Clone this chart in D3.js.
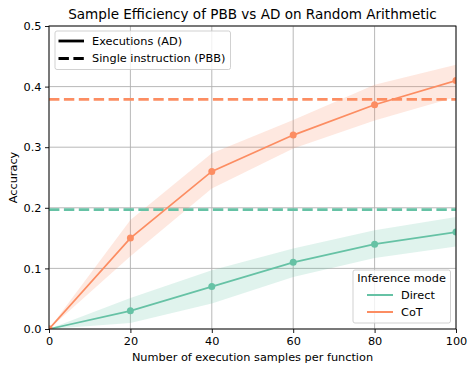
<!DOCTYPE html>
<html>
<head>
<meta charset="utf-8">
<script src="https://cdn.jsdelivr.net/npm/d3@7"></script>
<style>
  body { margin: 0; background: #fff; }
  svg { font-family: "DejaVu Sans", sans-serif; }
</style>
</head>
<body>
<div id="chart"></div>
<script>
// data
const samples = [0, 20, 40, 60, 80, 100]
const directMean = [0, 0.03, 0.07, 0.11, 0.14, 0.16]
const directLower = [0, 0.01, 0.042, 0.086, 0.117, 0.136]
const directUpper = [0, 0.051, 0.097, 0.133, 0.163, 0.185]
const cotMean = [0, 0.15, 0.26, 0.32, 0.37, 0.41]
const cotLower = [0, 0.12, 0.232, 0.298, 0.344, 0.383]
const cotUpper = [0, 0.18, 0.29, 0.345, 0.403, 0.436]
// single instruction (PBB) baselines
const directBaseline = 0.197
const cotBaseline = 0.379

const xTicks = [0, 20, 40, 60, 80, 100]
const yTicks = [0, 0.1, 0.2, 0.3, 0.4, 0.5]

const width = 467, height = 365
const margin = { left: 49, right: 11, top: 26, bottom: 36 }
const green = '#66c2a5', orange = '#fc8d62'
const fs = 11.3

const svg = d3.select('#chart').append('svg')
  .attr('width', width)
  .attr('height', height)

const x = d3.scaleLinear().domain([0, 100]).range([margin.left, width - margin.right])
const y = d3.scaleLinear().domain([0, 0.5]).range([height - margin.bottom, margin.top])

svg.append('defs').append('clipPath').attr('id', 'plot')
  .append('rect')
  .attr('x', x(0)).attr('y', y(0.5))
  .attr('width', x(100) - x(0)).attr('height', y(0) - y(0.5))

// grid
const grid = svg.append('g').attr('stroke', '#b0b0b0').attr('stroke-width', 0.9)
grid.selectAll('.vx').data(xTicks).enter().append('line')
  .attr('x1', d => x(d)).attr('x2', d => x(d))
  .attr('y1', y(0)).attr('y2', y(0.5))
grid.selectAll('.hy').data(yTicks).enter().append('line')
  .attr('y1', d => y(d)).attr('y2', d => y(d))
  .attr('x1', x(0)).attr('x2', x(100))

const plot = svg.append('g').attr('clip-path', 'url(#plot)')

const series = [
  { name: 'Direct', color: green, mean: directMean, lo: directLower, hi: directUpper, base: directBaseline },
  { name: 'CoT', color: orange, mean: cotMean, lo: cotLower, hi: cotUpper, base: cotBaseline }
]

const area = d3.area()
  .x((d, i) => x(samples[i]))
  .y0(d => y(d[0]))
  .y1(d => y(d[1]))
const line = d3.line()
  .x((d, i) => x(samples[i]))
  .y(d => y(d))

series.forEach(s => {
  plot.append('path')
    .attr('d', area(s.lo.map((v, i) => [v, s.hi[i]])))
    .attr('fill', s.color).attr('fill-opacity', 0.2)
})

series.forEach(s => {
  plot.append('line')
    .attr('x1', x(0)).attr('x2', x(100))
    .attr('y1', y(s.base)).attr('y2', y(s.base))
    .attr('stroke', s.color).attr('stroke-width', 2.8)
    .attr('stroke-dasharray', '10.4,4.5')
})

series.forEach(s => {
  plot.append('path')
    .attr('d', line(s.mean))
    .attr('fill', 'none')
    .attr('stroke', s.color).attr('stroke-width', 1.7)
  plot.selectAll(null).data(s.mean).enter().append('circle')
    .attr('cx', (d, i) => x(samples[i]))
    .attr('cy', d => y(d))
    .attr('r', 3.5)
    .attr('fill', s.color)
})

// axes
const xAxis = svg.append('g')
  .attr('transform', `translate(0,${y(0)})`)
  .call(d3.axisBottom(x).tickValues(xTicks).tickSize(4).tickPadding(3.5).tickFormat(d3.format('d')))
const yAxis = svg.append('g')
  .attr('transform', `translate(${x(0)},0)`)
  .call(d3.axisLeft(y).tickValues(yTicks).tickSize(4).tickPadding(3.5).tickFormat(d3.format('.1f')))
;[xAxis, yAxis].forEach(a => {
  a.select('.domain').remove()
  a.selectAll('text').attr('font-size', fs).attr('fill', '#000').attr('font-family', '"DejaVu Sans", sans-serif')
  a.selectAll('line').attr('stroke', '#000').attr('stroke-width', 0.9)
})

// spines
svg.append('rect')
  .attr('x', x(0)).attr('y', y(0.5))
  .attr('width', x(100) - x(0)).attr('height', y(0) - y(0.5))
  .attr('fill', 'none').attr('stroke', '#000').attr('stroke-width', 0.9)

// titles
svg.append('text')
  .attr('x', (x(0) + x(100)) / 2).attr('y', 19)
  .attr('text-anchor', 'middle').attr('font-size', fs * 1.2)
  .text('Sample Efficiency of PBB vs AD on Random Arithmetic')
svg.append('text')
  .attr('x', (x(0) + x(100)) / 2).attr('y', 361)
  .attr('text-anchor', 'middle').attr('font-size', fs)
  .text('Number of execution samples per function')
svg.append('text')
  .attr('transform', `translate(16.5,${(y(0) + y(0.5)) / 2}) rotate(-90)`)
  .attr('text-anchor', 'middle').attr('font-size', fs)
  .text('Accuracy')

// legend: line styles
const leg1 = svg.append('g')
leg1.append('rect')
  .attr('x', 55).attr('y', 31).attr('width', 175.5).attr('height', 38.5).attr('rx', 2)
  .attr('fill', '#fff').attr('fill-opacity', 0.8)
  .attr('stroke', '#ccc').attr('stroke-width', 0.9)
const styles = [
  { label: 'Executions (AD)', dash: null },
  { label: 'Single instruction (PBB)', dash: '10.4,4.5' }
]
styles.forEach((st, i) => {
  const cy = 41 + i * 17.5
  leg1.append('line')
    .attr('x1', 58.5).attr('x2', 84).attr('y1', cy).attr('y2', cy)
    .attr('stroke', '#000').attr('stroke-width', 2.8)
    .attr('stroke-dasharray', st.dash)
  leg1.append('text')
    .attr('x', 92).attr('y', cy).attr('dy', '0.35em')
    .attr('font-size', fs).text(st.label)
})

// legend: inference mode
const leg2 = svg.append('g')
leg2.append('rect')
  .attr('x', 353).attr('y', 270).attr('width', 97.5).attr('height', 53).attr('rx', 2)
  .attr('fill', '#fff').attr('fill-opacity', 0.8)
  .attr('stroke', '#ccc').attr('stroke-width', 0.9)
leg2.append('text')
  .attr('x', 401.5).attr('y', 278.5).attr('dy', '0.35em')
  .attr('text-anchor', 'middle').attr('font-size', fs)
  .text('Inference mode')
series.forEach((s, i) => {
  const cy = 295 + i * 17
  leg2.append('line')
    .attr('x1', 367).attr('x2', 393).attr('y1', cy).attr('y2', cy)
    .attr('stroke', s.color).attr('stroke-width', 2)
  leg2.append('text')
    .attr('x', 401).attr('y', cy).attr('dy', '0.35em')
    .attr('font-size', fs).text(s.name)
})
</script>
</body>
</html>
